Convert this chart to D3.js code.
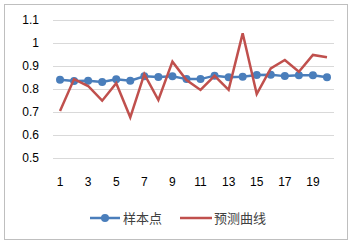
<!DOCTYPE html>
<html>
<head>
<meta charset="utf-8">
<script src="https://cdn.jsdelivr.net/npm/d3@7"></script>
<style>
  body { margin: 0; background: #fff; }
  svg { display: block; }
</style>
</head>
<body>
<svg id="chart" width="354" height="245"></svg>
<script>
const categories = d3.range(1, 21);
const sampleValues = [0.840, 0.835, 0.836, 0.830, 0.842, 0.836, 0.855, 0.852, 0.855, 0.843,
  0.843, 0.858, 0.851, 0.853, 0.861, 0.862, 0.856, 0.860, 0.860, 0.851];
const predictValues = [0.704, 0.843, 0.813, 0.749, 0.825, 0.677, 0.865, 0.752, 0.919, 0.839,
  0.796, 0.857, 0.796, 1.042, 0.778, 0.890, 0.926, 0.875, 0.948, 0.938];
const yTicks = [0.5, 0.6, 0.7, 0.8, 0.9, 1, 1.1];
const seriesNames = ['样本点', '预测曲线'];

const margin = { top: 20, right: 20, bottom: 87, left: 53 },
  width = 354,
  height = 245;

const svg = d3.select('#chart');

svg.append('rect')
  .attr('x', 4.5).attr('y', 4.5)
  .attr('width', 343).attr('height', 235)
  .attr('fill', '#fff')
  .attr('stroke', '#bfbfbf')
  .attr('stroke-width', 1);

const x = d3.scaleBand()
  .domain(categories)
  .range([margin.left, width - margin.right]);

const y = d3.scaleLinear()
  .domain([0.5, 1.1])
  .range([height - margin.bottom - 0.5 + 0.5, margin.top]);

// gridlines + y labels
svg.append('g')
  .attr('transform', `translate(${margin.left},0)`)
  .call(d3.axisLeft(y).tickValues(yTicks).tickFormat(d3.format('')).tickSize(-(width - margin.left - margin.right)).tickPadding(14))
  .call(g => g.select('.domain').remove())
  .call(g => g.selectAll('.tick line').attr('stroke', '#d9d9d9').attr('stroke-width', 1))
  .call(g => g.selectAll('.tick text')
    .attr('fill', '#000')
    .attr('font-family', 'Liberation Sans, Arial, sans-serif')
    .attr('font-size', '12px'));

// x labels
svg.append('g')
  .attr('transform', `translate(0,${y(0.5) + 16})`)
  .call(d3.axisBottom(x).tickValues(categories.filter(d => d % 2 === 1)).tickSize(0))
  .call(g => g.select('.domain').remove())
  .call(g => g.selectAll('.tick text')
    .attr('fill', '#000')
    .attr('font-family', 'Liberation Sans, Arial, sans-serif')
    .attr('font-size', '12px'));

const cx = d => x(d) + x.bandwidth() / 2;

const line = d3.line()
  .x((d, i) => cx(categories[i]))
  .y(d => y(d));

svg.append('path')
  .datum(sampleValues)
  .attr('fill', 'none')
  .attr('stroke', '#4a7ebb')
  .attr('stroke-width', 2.5)
  .attr('d', line);

svg.append('g')
  .selectAll('circle')
  .data(sampleValues)
  .join('circle')
  .attr('cx', (d, i) => cx(categories[i]))
  .attr('cy', d => y(d))
  .attr('r', 4)
  .attr('fill', '#4a7ebb');

svg.append('path')
  .datum(predictValues)
  .attr('fill', 'none')
  .attr('stroke', '#c0504d')
  .attr('stroke-width', 2.5)
  .attr('stroke-linejoin', 'miter')
  .attr('d', line);

// legend
const legend = svg.append('g').attr('transform', 'translate(0,218)');
legend.append('line')
  .attr('x1', 90).attr('x2', 120).attr('y1', 0).attr('y2', 0)
  .attr('stroke', '#4a7ebb').attr('stroke-width', 2.5);
legend.append('circle')
  .attr('cx', 105).attr('cy', 0).attr('r', 4).attr('fill', '#4a7ebb');
legend.append('text')
  .attr('x', 123).attr('y', 5)
  .attr('font-family', 'Noto Sans CJK SC, sans-serif')
  .attr('font-size', '13px')
  .attr('fill', '#404040')
  .text(seriesNames[0]);
legend.append('line')
  .attr('x1', 180).attr('x2', 212).attr('y1', 0).attr('y2', 0)
  .attr('stroke', '#c0504d').attr('stroke-width', 2.5);
legend.append('text')
  .attr('x', 214).attr('y', 5)
  .attr('font-family', 'Noto Sans CJK SC, sans-serif')
  .attr('font-size', '13px')
  .attr('fill', '#404040')
  .text(seriesNames[1]);
</script>
</body>
</html>
